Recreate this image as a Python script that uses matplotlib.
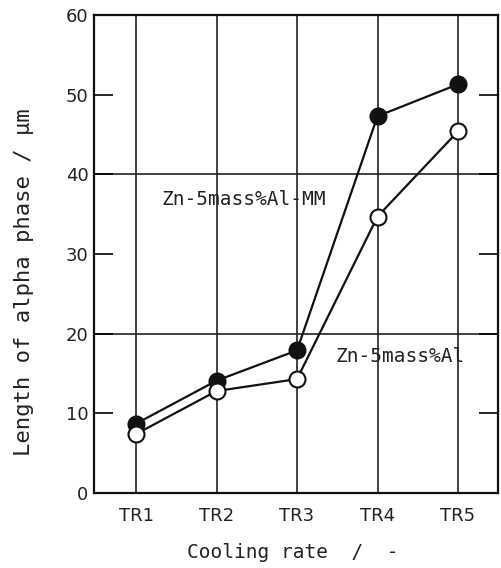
import matplotlib
matplotlib.use("Agg")
import matplotlib.pyplot as plt

categories = ["TR1", "TR2", "TR3", "TR4", "TR5"]
zn_al_mm = [8.7, 14.1, 17.9, 47.3, 51.3]   # filled circles
zn_al = [7.4, 12.8, 14.3, 34.7, 45.4]      # open circles
yticks = [0, 10, 20, 30, 40, 50, 60]

W, H = 502, 568
fig = plt.figure(figsize=(W / 100, H / 100), dpi=100)
ax = fig.add_axes([94 / W, 1 - 493 / H, (498 - 94) / W, (493 - 15) / H])

x = list(range(1, len(categories) + 1))

# grid lines
for xi in x:
    ax.axvline(xi, color="#222222", lw=1.2, zorder=1)
for gy in (20, 40):
    ax.axhline(gy, color="#222222", lw=1.2, zorder=1)

ax.plot(x, zn_al_mm, color="#111111", lw=1.6, marker="o", ms=11.5,
        mfc="#111111", mec="#111111", mew=1.5, zorder=3)
ax.plot(x, zn_al, color="#111111", lw=1.6, marker="o", ms=11.5,
        mfc="white", mec="#111111", mew=1.5, zorder=3)

ax.set_xlim(0.478, 5.497)
ax.set_ylim(0, 60)
ax.set_xticks(x)
ax.set_xticklabels(categories)
ax.set_yticks(yticks)
ax.tick_params(axis="x", length=0, pad=10, labelsize=13)
ax.tick_params(axis="y", direction="in", length=14, width=1.2, pad=4,
               labelsize=13, right=True)
for lab in ax.get_xticklabels() + ax.get_yticklabels():
    lab.set_family(["Liberation Sans Narrow", "DejaVu Sans"])
    lab.set_color("#222222")
for s in ax.spines.values():
    s.set_linewidth(1.6)
    s.set_color("#111111")

mono = "DejaVu Sans Mono"
ax.text(1.32, 36.8, "Zn-5mass%Al-MM", family=mono, fontsize=14,
        color="#222222", va="center", ha="left", zorder=4)
ax.text(3.48, 17.1, "Zn-5mass%Al", family=mono, fontsize=14,
        color="#222222", va="center", ha="left", zorder=4)

fig.text(24 / W, 1 - 282 / H, "Length of alpha phase / μm", family=mono,
         fontsize=16, rotation=90, va="center", ha="center", color="#222222")
fig.text(293 / W, 1 - 552 / H, "Cooling rate  /  -", family=mono,
         fontsize=14, va="center", ha="center", color="#222222")

fig.savefig("out.png", dpi=100)
